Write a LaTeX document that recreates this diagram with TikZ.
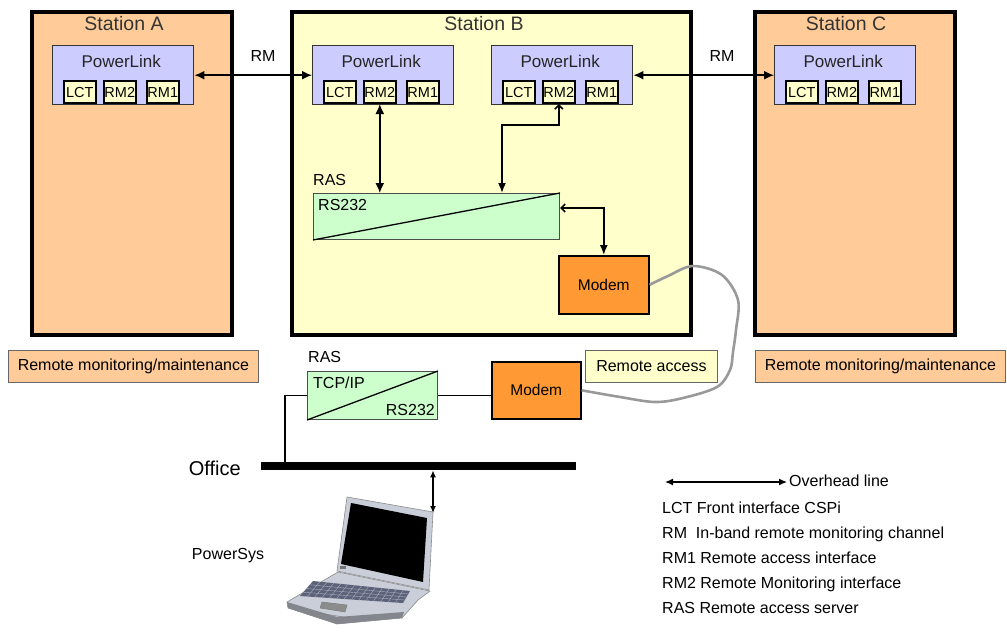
\documentclass[tikz,border=0pt]{standalone}
\usepackage{fontspec}
\setmainfont{Liberation Sans}
\usetikzlibrary{arrows.meta, positioning, calc}

\definecolor{pesca}{HTML}{FFCC99}
\definecolor{crema}{HTML}{FFFFCC}
\definecolor{lilla}{HTML}{CCCCFF}
\definecolor{verdino}{HTML}{CCFFCC}
\definecolor{arancio}{HTML}{FF9933}
\definecolor{argento}{HTML}{C9CED9}
\definecolor{tastiera}{HTML}{5C6279}

\begin{document}
\begin{tikzpicture}[
  x=1pt, y=-1pt,
  stazione/.style={draw=black, line width=3.5pt, anchor=north west, inner sep=0pt},
  titolo/.style={font=\fontsize{19.5}{22}\selectfont, text=black!80},
  scheda/.style={draw=black!80, line width=1.4pt, fill=lilla, anchor=north west,
                 minimum width=141pt, minimum height=59pt, inner sep=0pt},
  nome/.style={font=\fontsize{17}{20}\selectfont, text=black!85},
  porta/.style={draw=black, line width=1.6pt, fill=crema, anchor=south west,
                minimum width=32pt, minimum height=22pt, inner sep=0pt,
                font=\fontsize{14.5}{16}\selectfont},
  convertitore/.style={draw=black!70, line width=1pt, fill=verdino, anchor=north west, inner sep=0pt},
  modem/.style={draw=black, line width=1.6pt, fill=arancio, anchor=north west,
                minimum width=90pt, minimum height=58pt, font=\fontsize{15.5}{18}\selectfont},
  etichetta/.style={draw=black!60, line width=0.8pt, anchor=north west, minimum height=32pt,
                    inner sep=0pt, font=\fontsize{16}{19}\selectfont},
  testo/.style={font=\fontsize{16}{19}\selectfont, inner sep=0pt},
  filo/.style={line width=1.4pt},
  collegamento/.style={line width=1.6pt, {Latex[length=10pt,width=9pt]}-{Latex[length=10pt,width=9pt]}},
  cavo/.style={draw=black!40, line width=2.6pt, line join=round}
]
\useasboundingbox (0,0) rectangle (1007,637);

% ---- stazioni ------------------------------------------------------------
\node[stazione, fill=pesca, minimum width=200pt, minimum height=323pt] (stA) at (30,10) {};
\node[stazione, fill=crema, minimum width=399pt, minimum height=323pt] (stB) at (290,10) {};
\node[stazione, fill=pesca, minimum width=200pt, minimum height=323pt] (stC) at (753,10) {};
\node[titolo] (stA-t) at (124,24) {Station A};
\node[titolo] (stB-t) at (484,24) {Station B};
\node[titolo] (stC-t) at (846,24) {Station C};

% ---- schede PowerLink con le interfacce -----------------------------------
\foreach \s/\x in {A/52, B/312, D/491, C/774} {
  \node[scheda] (pl\s) at (\x,45) {};
  \node[nome] (pl\s-nome) at ($(pl\s.north)+(-2,16)$) {PowerLink};
  \foreach \p/\dx in {LCT/11, RM2/51, RM1/94}
    \node[porta] (pl\s\p) at (\x+\dx,104) {\p};
}

% ---- canale RM sulla linea aerea ------------------------------------------
\draw[collegamento] (plA.east) -- (plB.west);
\draw[collegamento] (plD.east) -- (plC.west);
\node[testo] (rmAB) at (263,56) {RM};
\node[testo] (rmDC) at (722,56) {RM};

% ---- RAS e modem della stazione B ------------------------------------------
\node[testo, anchor=west] (rasB-t) at (313,180) {RAS};
\node[convertitore, minimum width=246pt, minimum height=46pt] (rasB) at (313,193) {};
\draw[line width=1.3pt] (rasB.south west) -- (rasB.north east);
\node[testo, anchor=north west] (rasB-rs) at ($(rasB.north west)+(5,6)$) {RS232};
\node[modem] (modemB) at (558,255) {Modem};

\draw[collegamento] (plBRM2.south) -- (plBRM2.south |- rasB.north);
\draw[line width=1.6pt, {Straight Barb[length=4pt,width=8pt]}-{Latex[length=10pt,width=8pt]}]
  (plDRM2.south) -- ++(0,21) -| ($(rasB.north east)+(-58,0)$);
\draw[line width=1.6pt, {Straight Barb[length=4pt,width=8pt]}-{Latex[length=10pt,width=8pt]}]
  ($(rasB.north east)+(0,15)$) -| (modemB.north);

% ---- riquadri descrittivi -------------------------------------------------
\node[etichetta, fill=pesca, minimum width=250pt] (manA) at (8,350) {Remote monitoring/maintenance};
\node[etichetta, fill=pesca, minimum width=250pt] (manC) at (755,350) {Remote monitoring/maintenance};
\node[etichetta, fill=crema, minimum width=132pt] (accesso) at (585,350) {Remote access};

% ---- ufficio --------------------------------------------------------------
\node[testo, anchor=west] (rasO-t) at (308,357) {RAS};
\node[convertitore, minimum width=130pt, minimum height=48pt] (rasO) at (307,371) {};
\draw[line width=1.3pt] (rasO.south west) -- (rasO.north east);
\node[testo, anchor=north west] (rasO-tcp) at ($(rasO.north west)+(6,6)$) {TCP/IP};
\node[testo, anchor=south east] (rasO-rs) at ($(rasO.south east)+(-3,-4)$) {RS232};
\node[modem, minimum width=89pt, minimum height=57pt] (modemO) at (491,361) {Modem};
\draw[filo] (rasO.east) -- (rasO.east -| modemO.west);

\node[fill=black, minimum width=315pt, minimum height=8pt, inner sep=0pt, anchor=north west] (lan) at (261,462) {};
\node[font=\fontsize{20}{24}\selectfont, inner sep=0pt, anchor=east] (ufficio) at (241,468) {Office};
\draw[filo] (rasO.west) -| ($(lan.north west)+(24,0)$);

% collegamento via modem
\draw[cavo] plot[smooth, tension=0.55] coordinates {(modemB.east) (668,276) (693,266) (722,275)
  (738,300) (736,330) (733,352) (730,370) (717,387) (683,398) (655,402) (620,397) (modemO.east)};

% ---- PC portatile ---------------------------------------------------------
\coordinate (pc) at (433,513);
\draw[line width=1.3pt, {Latex[length=7pt,width=6pt]}-{Latex[length=7pt,width=6pt]}]
  ($(lan.south west)+(172,0)$) -- (pc);
\node[testo] (powersys) at (228,556) {PowerSys};

% coperchio e schermo
\filldraw[fill=argento, draw=black!45, line width=0.6pt]
  (347,497) -- (433,512) -- (429,590) -- (337,571) -- cycle;
\fill[black] (351,503) -- (427,518) -- (423,582) -- (341,564) -- cycle;
\fill[black!55] (340,566) rectangle (346,569);
% base
\filldraw[fill=argento, draw=black!45, line width=0.6pt]
  (338,572) -- (430,591) -- (418,600) -- (402,618) -- (337,624) -- (288,608) -- (287,602) -- cycle;
\fill[black!35!argento] (287,602) -- (337,617) -- (404,612) -- (402,618) -- (337,624) -- (288,608) -- cycle;
% tastiera
\coordinate (kA) at (313,581);
\coordinate (kB) at (410,591);
\coordinate (kC) at (403,603);
\coordinate (kD) at (300,596);
\fill[tastiera] (kA) -- (kB) -- (kC) -- (kD) -- cycle;
\foreach \i in {1,...,13}
  \draw[argento!70!tastiera, line width=0.4pt] ($(kA)!\i/14!(kB)$) -- ($(kD)!\i/14!(kC)$);
\foreach \j in {1,2,3}
  \draw[argento!70!tastiera, line width=0.4pt] ($(kA)!\j/4!(kD)$) -- ($(kB)!\j/4!(kC)$);
\filldraw[fill=black!45, draw=black!55, line width=0.4pt]
  (322,602) -- (347,605) -- (345,612) -- (320,608) -- cycle;
\draw[black!50, line width=0.5pt] (318,613) -- (350,618);

% ---- legenda --------------------------------------------------------------
\coordinate (leg-a) at (665,482);
\coordinate (leg-b) at (787,482);
\draw[line width=1.3pt, {Latex[length=8pt,width=7pt]}-{Latex[length=8pt,width=7pt]}] (leg-a) -- (leg-b);
\node[testo, anchor=west] (leg-t) at ($(leg-b)+(2,-1)$) {Overhead line};
\foreach \r/\t in {0/LCT Front interface CSPi, 1/RM~~In-band remote monitoring channel,
                   2/RM1 Remote access interface, 3/RM2 Remote Monitoring interface,
                   4/RAS Remote access server}
  \node[testo, anchor=base west] (leg\r) at (662,513+25*\r) {\t};

\end{tikzpicture}
\end{document}
